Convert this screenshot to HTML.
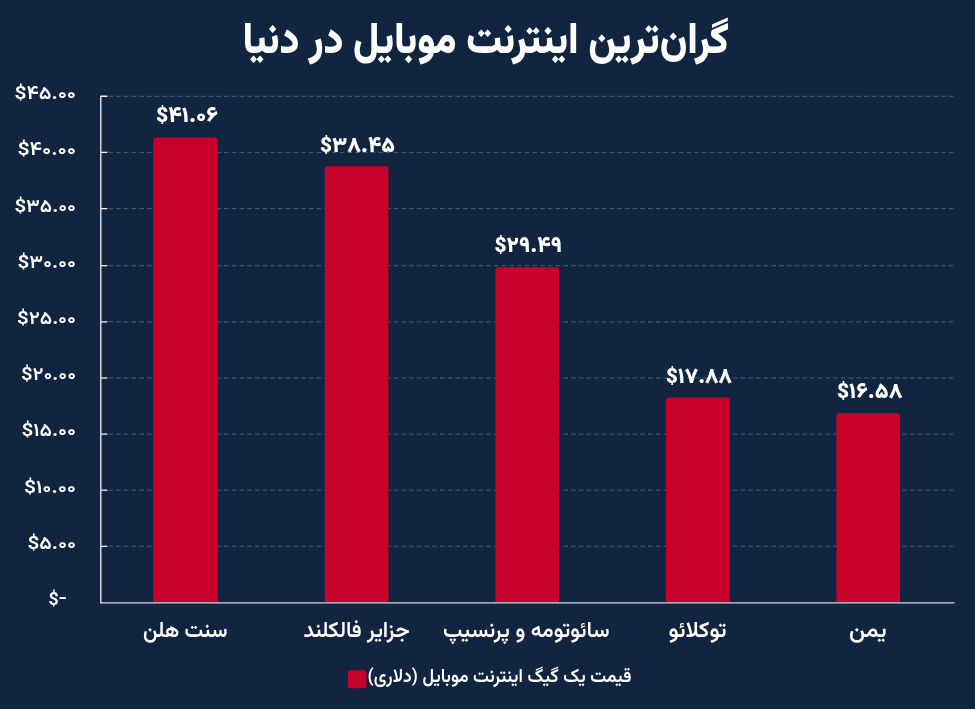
<!DOCTYPE html>
<html lang="fa">
<head>
<meta charset="utf-8">
<title>گران‌ترین اینترنت موبایل در دنیا</title>
<style>
html,body{margin:0;padding:0;background:#112440;}
body{width:975px;height:709px;overflow:hidden;}
svg{display:block;}
text{font-family:"Vazirmatn","Liberation Sans","DejaVu Sans",sans-serif;fill:#fff;}
.t{font-size:43px;font-weight:900;}
.y{font-size:18.5px;font-weight:600;}
.d{font-size:21.5px;font-weight:900;}
.d .s{font-size:20px;}
.c{font-size:22px;font-weight:650;}
.l{font-size:19px;font-weight:600;}
</style>
</head>
<body>
<svg width="975" height="709" viewBox="0 0 975 709">
<rect x="0" y="0" width="975" height="709" fill="#112440"/>
<line x1="108.4" y1="96.25" x2="954" y2="96.25" stroke="#4c5b76" stroke-width="1" stroke-dasharray="4.66 3.05"/>
<line x1="108.4" y1="152.40" x2="954" y2="152.40" stroke="#4c5b76" stroke-width="1" stroke-dasharray="4.66 3.05"/>
<line x1="101.0" y1="152.40" x2="107.4" y2="152.40" stroke="#eef0f3" stroke-width="1.3"/>
<line x1="108.4" y1="208.65" x2="954" y2="208.65" stroke="#4c5b76" stroke-width="1" stroke-dasharray="4.66 3.05"/>
<line x1="101.0" y1="208.65" x2="107.4" y2="208.65" stroke="#eef0f3" stroke-width="1.3"/>
<line x1="108.4" y1="265.70" x2="954" y2="265.70" stroke="#4c5b76" stroke-width="1" stroke-dasharray="4.66 3.05"/>
<line x1="101.0" y1="265.70" x2="107.4" y2="265.70" stroke="#eef0f3" stroke-width="1.3"/>
<line x1="108.4" y1="321.90" x2="954" y2="321.90" stroke="#4c5b76" stroke-width="1" stroke-dasharray="4.66 3.05"/>
<line x1="101.0" y1="321.90" x2="107.4" y2="321.90" stroke="#eef0f3" stroke-width="1.3"/>
<line x1="108.4" y1="378.00" x2="954" y2="378.00" stroke="#4c5b76" stroke-width="1" stroke-dasharray="4.66 3.05"/>
<line x1="101.0" y1="378.00" x2="107.4" y2="378.00" stroke="#eef0f3" stroke-width="1.3"/>
<line x1="108.4" y1="434.10" x2="954" y2="434.10" stroke="#4c5b76" stroke-width="1" stroke-dasharray="4.66 3.05"/>
<line x1="101.0" y1="434.10" x2="107.4" y2="434.10" stroke="#eef0f3" stroke-width="1.3"/>
<line x1="108.4" y1="490.20" x2="954" y2="490.20" stroke="#4c5b76" stroke-width="1" stroke-dasharray="4.66 3.05"/>
<line x1="101.0" y1="490.20" x2="107.4" y2="490.20" stroke="#eef0f3" stroke-width="1.3"/>
<line x1="108.4" y1="546.30" x2="954" y2="546.30" stroke="#4c5b76" stroke-width="1" stroke-dasharray="4.66 3.05"/>
<line x1="101.0" y1="546.30" x2="107.4" y2="546.30" stroke="#eef0f3" stroke-width="1.3"/>
<path d="M153.1 602.3 V140.6 Q153.1 137.6 156.1 137.6 H214.9 Q217.9 137.6 217.9 140.6 V602.3 Z" fill="#c8002c"/>
<path d="M324.9 602.3 V169.2 Q324.9 166.2 327.9 166.2 H385.5 Q388.5 166.2 388.5 169.2 V602.3 Z" fill="#c8002c"/>
<path d="M495.4 602.3 V270.3 Q495.4 267.3 498.4 267.3 H556.0 Q559.0 267.3 559.0 270.3 V602.3 Z" fill="#c8002c"/>
<path d="M665.9 602.3 V400.4 Q665.9 397.4 668.9 397.4 H726.8 Q729.8 397.4 729.8 400.4 V602.3 Z" fill="#c8002c"/>
<path d="M836.4 602.3 V416.0 Q836.4 413.0 839.4 413.0 H897.0 Q900.0 413.0 900.0 416.0 V602.3 Z" fill="#c8002c"/>
<path d="M101.6 602.8 H954" fill="none" stroke="#d3d7de" stroke-width="1.3" stroke-linecap="round"/>
<path d="M107.4 96.25 H100.8 V602.8 H102.0" fill="none" stroke="#eef0f3" stroke-width="1.3" stroke-linejoin="round"/>
<rect x="348" y="670.3" width="18.5" height="17.9" rx="2.8" fill="#c8002c"/>
<text class="t" x="485.75" y="52.50" text-anchor="middle" direction="rtl" textLength="486.52" lengthAdjust="spacingAndGlyphs">گران‌ترین اینترنت موبایل در دنیا</text>
<text class="y" x="45.25" y="99.20" text-anchor="middle" direction="ltr" textLength="61.61" lengthAdjust="spacingAndGlyphs">$۴۵.۰۰</text>
<text class="y" x="46.75" y="155.47" text-anchor="middle" direction="ltr" textLength="58.67" lengthAdjust="spacingAndGlyphs">$۴۰.۰۰</text>
<text class="y" x="45.25" y="211.74" text-anchor="middle" direction="ltr" textLength="61.61" lengthAdjust="spacingAndGlyphs">$۳۵.۰۰</text>
<text class="y" x="46.75" y="268.01" text-anchor="middle" direction="ltr" textLength="58.60" lengthAdjust="spacingAndGlyphs">$۳۰.۰۰</text>
<text class="y" x="46.50" y="324.28" text-anchor="middle" direction="ltr" textLength="59.12" lengthAdjust="spacingAndGlyphs">$۲۵.۰۰</text>
<text class="y" x="48.50" y="380.05" text-anchor="middle" direction="ltr" textLength="55.08" lengthAdjust="spacingAndGlyphs">$۲۰.۰۰</text>
<text class="y" x="48.75" y="436.32" text-anchor="middle" direction="ltr" textLength="54.61" lengthAdjust="spacingAndGlyphs">$۱۵.۰۰</text>
<text class="y" x="50.00" y="492.59" text-anchor="middle" direction="ltr" textLength="52.14" lengthAdjust="spacingAndGlyphs">$۱۰.۰۰</text>
<text class="y" x="51.75" y="548.86" text-anchor="middle" direction="ltr" textLength="48.71" lengthAdjust="spacingAndGlyphs">$۵.۰۰</text>
<text class="y" x="57.75" y="605.10" text-anchor="middle" direction="ltr" textLength="18.71" lengthAdjust="spacingAndGlyphs">$<tspan dy="-1.8">-</tspan></text>
<text class="d" x="187.00" y="121.90" text-anchor="middle" direction="ltr" textLength="62.06" lengthAdjust="spacingAndGlyphs"><tspan class="s">$</tspan>۴۱.۰۶</text>
<text class="d" x="357.50" y="151.80" text-anchor="middle" direction="ltr" textLength="75.04" lengthAdjust="spacingAndGlyphs"><tspan class="s">$</tspan>۳۸.۴۵</text>
<text class="d" x="528.25" y="251.90" text-anchor="middle" direction="ltr" textLength="67.58" lengthAdjust="spacingAndGlyphs"><tspan class="s">$</tspan>۲۹.۴۹</text>
<text class="d" x="699.00" y="382.80" text-anchor="middle" direction="ltr" textLength="66.04" lengthAdjust="spacingAndGlyphs"><tspan class="s">$</tspan>۱۷.۸۸</text>
<text class="d" x="869.75" y="397.60" text-anchor="middle" direction="ltr" textLength="65.55" lengthAdjust="spacingAndGlyphs"><tspan class="s">$</tspan>۱۶.۵۸</text>
<text class="c" x="185.25" y="637.20" text-anchor="middle" direction="rtl" textLength="84.54" lengthAdjust="spacingAndGlyphs">سنت هلن</text>
<text class="c" x="356.50" y="637.20" text-anchor="middle" direction="rtl" textLength="106.03" lengthAdjust="spacingAndGlyphs">جزایر فالکلند</text>
<text class="c" x="526.25" y="637.20" text-anchor="middle" direction="rtl" textLength="166.52" lengthAdjust="spacingAndGlyphs">سائوتومه و پرنسیپ</text>
<text class="c" x="697.50" y="637.20" text-anchor="middle" direction="rtl" textLength="58.08" lengthAdjust="spacingAndGlyphs">توکلائو</text>
<text class="c" x="867.75" y="637.20" text-anchor="middle" direction="rtl" textLength="37.63" lengthAdjust="spacingAndGlyphs">یمن</text>
<text class="l" x="499.50" y="681.60" text-anchor="middle" direction="rtl" textLength="264.02" lengthAdjust="spacingAndGlyphs">قیمت یک گیگ اینترنت موبایل (دلاری)</text>
</svg>
</body>
</html>
